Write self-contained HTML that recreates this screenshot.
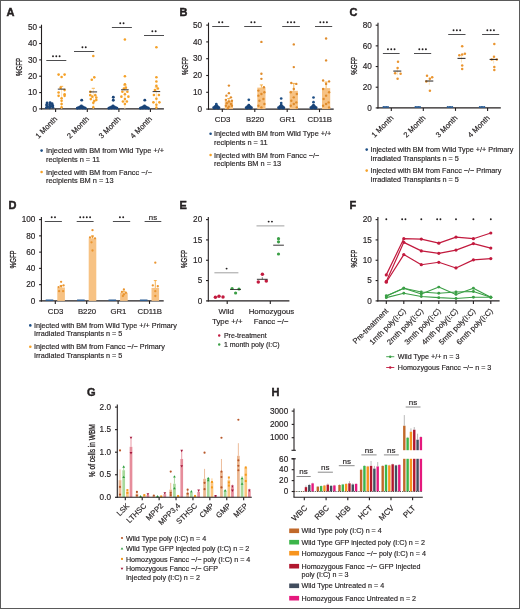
<!DOCTYPE html>
<html><head><meta charset="utf-8"><style>
html,body{margin:0;padding:0;background:#fff;}
svg{display:block;filter:blur(0.3px);font-family:"Liberation Sans", sans-serif;}
text{fill:#231f20;stroke:#231f20;stroke-width:0.16px;}
</style></head><body>
<svg width="520" height="609" viewBox="0 0 520 609">
<rect x="0" y="0" width="520" height="609" fill="#fff"/>
<text x="6.6" y="15.8" font-size="11" text-anchor="start" font-weight="bold" style="stroke-width:0.45px" fill="#000">A</text>
<line x1="41.5" y1="24.7" x2="41.5" y2="109.45" stroke="#231f20" stroke-width="1.1"/>
<line x1="39.2" y1="27.2" x2="41.5" y2="27.2" stroke="#231f20" stroke-width="1.1"/>
<text x="37" y="29.91" font-size="8.2" text-anchor="end">50</text>
<line x1="39.2" y1="43.54" x2="41.5" y2="43.54" stroke="#231f20" stroke-width="1.1"/>
<text x="37" y="46.25" font-size="8.2" text-anchor="end">40</text>
<line x1="39.2" y1="59.88" x2="41.5" y2="59.88" stroke="#231f20" stroke-width="1.1"/>
<text x="37" y="62.59" font-size="8.2" text-anchor="end">30</text>
<line x1="39.2" y1="76.22" x2="41.5" y2="76.22" stroke="#231f20" stroke-width="1.1"/>
<text x="37" y="78.93" font-size="8.2" text-anchor="end">20</text>
<line x1="39.2" y1="92.56" x2="41.5" y2="92.56" stroke="#231f20" stroke-width="1.1"/>
<text x="37" y="95.27" font-size="8.2" text-anchor="end">10</text>
<line x1="39.2" y1="108.9" x2="41.5" y2="108.9" stroke="#231f20" stroke-width="1.1"/>
<text x="37" y="111.61" font-size="8.2" text-anchor="end">0</text>
<text x="22" y="67" font-size="9.4" text-anchor="middle" transform="rotate(-90 22 67)" textLength="18" lengthAdjust="spacingAndGlyphs" style="stroke-width:0.3px">%GFP</text>
<line x1="40.95" y1="108.9" x2="163.9" y2="108.9" stroke="#231f20" stroke-width="1.1"/>
<line x1="55.6" y1="108.9" x2="55.6" y2="111.9" stroke="#231f20" stroke-width="1.1"/>
<line x1="87.3" y1="108.9" x2="87.3" y2="111.9" stroke="#231f20" stroke-width="1.1"/>
<line x1="118.9" y1="108.9" x2="118.9" y2="111.9" stroke="#231f20" stroke-width="1.1"/>
<line x1="150.4" y1="108.9" x2="150.4" y2="111.9" stroke="#231f20" stroke-width="1.1"/>
<line x1="46.3" y1="60.5" x2="66.3" y2="60.5" stroke="#4d4d4f" stroke-width="1"/>
<circle cx="53" cy="56.2" r="0.95" fill="#231f20"/>
<circle cx="56.3" cy="56.2" r="0.95" fill="#231f20"/>
<circle cx="59.6" cy="56.2" r="0.95" fill="#231f20"/>
<line x1="74" y1="51.5" x2="94.2" y2="51.5" stroke="#4d4d4f" stroke-width="1"/>
<circle cx="82.45" cy="47.2" r="0.95" fill="#231f20"/>
<circle cx="85.75" cy="47.2" r="0.95" fill="#231f20"/>
<line x1="111.9" y1="27.5" x2="131.9" y2="27.5" stroke="#4d4d4f" stroke-width="1"/>
<circle cx="120.25" cy="23.2" r="0.95" fill="#231f20"/>
<circle cx="123.55" cy="23.2" r="0.95" fill="#231f20"/>
<line x1="144" y1="35.5" x2="164" y2="35.5" stroke="#4d4d4f" stroke-width="1"/>
<circle cx="152.35" cy="31.2" r="0.95" fill="#231f20"/>
<circle cx="155.65" cy="31.2" r="0.95" fill="#231f20"/>
<circle cx="47.1" cy="103.07" r="1.45" fill="#1a4478"/>
<circle cx="50.1" cy="102.74" r="1.45" fill="#1a4478"/>
<circle cx="52.1" cy="103.72" r="1.45" fill="#1a4478"/>
<circle cx="46.6" cy="105.03" r="1.45" fill="#1a4478"/>
<circle cx="49.6" cy="104.71" r="1.45" fill="#1a4478"/>
<circle cx="52.6" cy="105.36" r="1.45" fill="#1a4478"/>
<circle cx="47.6" cy="106.67" r="1.45" fill="#1a4478"/>
<circle cx="50.6" cy="106.34" r="1.45" fill="#1a4478"/>
<circle cx="52.8" cy="107.32" r="1.45" fill="#1a4478"/>
<circle cx="46.4" cy="107.65" r="1.45" fill="#1a4478"/>
<circle cx="49.6" cy="107.81" r="1.45" fill="#1a4478"/>
<circle cx="78.5" cy="107.81" r="1.45" fill="#1a4478"/>
<circle cx="84.1" cy="107.81" r="1.45" fill="#1a4478"/>
<circle cx="80" cy="106.83" r="1.45" fill="#1a4478"/>
<circle cx="82.7" cy="106.99" r="1.45" fill="#1a4478"/>
<circle cx="81.4" cy="106.01" r="1.45" fill="#1a4478"/>
<circle cx="77.3" cy="108.3" r="1.45" fill="#1a4478"/>
<circle cx="85.3" cy="108.3" r="1.45" fill="#1a4478"/>
<circle cx="81.3" cy="107.81" r="1.45" fill="#1a4478"/>
<circle cx="79.8" cy="108.14" r="1.45" fill="#1a4478"/>
<circle cx="82.8" cy="108.14" r="1.45" fill="#1a4478"/>
<circle cx="81.7" cy="100.13" r="1.45" fill="#1a4478"/>
<circle cx="110.1" cy="107.81" r="1.45" fill="#1a4478"/>
<circle cx="115.7" cy="107.81" r="1.45" fill="#1a4478"/>
<circle cx="111.6" cy="106.83" r="1.45" fill="#1a4478"/>
<circle cx="114.3" cy="106.99" r="1.45" fill="#1a4478"/>
<circle cx="113" cy="106.01" r="1.45" fill="#1a4478"/>
<circle cx="108.9" cy="108.3" r="1.45" fill="#1a4478"/>
<circle cx="116.9" cy="108.3" r="1.45" fill="#1a4478"/>
<circle cx="112.9" cy="107.81" r="1.45" fill="#1a4478"/>
<circle cx="111.4" cy="108.14" r="1.45" fill="#1a4478"/>
<circle cx="114.4" cy="108.14" r="1.45" fill="#1a4478"/>
<circle cx="113.3" cy="97.19" r="1.45" fill="#1a4478"/>
<circle cx="113.3" cy="100.29" r="1.45" fill="#1a4478"/>
<circle cx="141.6" cy="107.81" r="1.45" fill="#1a4478"/>
<circle cx="147.2" cy="107.81" r="1.45" fill="#1a4478"/>
<circle cx="143.1" cy="106.83" r="1.45" fill="#1a4478"/>
<circle cx="145.8" cy="106.99" r="1.45" fill="#1a4478"/>
<circle cx="144.5" cy="106.01" r="1.45" fill="#1a4478"/>
<circle cx="140.4" cy="108.3" r="1.45" fill="#1a4478"/>
<circle cx="148.4" cy="108.3" r="1.45" fill="#1a4478"/>
<circle cx="144.4" cy="107.81" r="1.45" fill="#1a4478"/>
<circle cx="142.9" cy="108.14" r="1.45" fill="#1a4478"/>
<circle cx="145.9" cy="108.14" r="1.45" fill="#1a4478"/>
<circle cx="144.8" cy="100.13" r="1.45" fill="#1a4478"/>
<line x1="61.6" y1="108.9" x2="61.6" y2="86.35" stroke="#fde2b8" stroke-width="0.9"/>
<circle cx="58.6" cy="74.59" r="1.3" fill="#f5a128"/>
<circle cx="64.6" cy="74.59" r="1.3" fill="#f5a128"/>
<circle cx="61.6" cy="77.04" r="1.3" fill="#f5a128"/>
<circle cx="60.6" cy="87.66" r="1.3" fill="#f5a128"/>
<circle cx="64.6" cy="90.11" r="1.3" fill="#f5a128"/>
<circle cx="58.6" cy="92.56" r="1.3" fill="#f5a128"/>
<circle cx="64.6" cy="94.19" r="1.3" fill="#f5a128"/>
<circle cx="58.6" cy="95.83" r="1.3" fill="#f5a128"/>
<circle cx="64.6" cy="95.83" r="1.3" fill="#f5a128"/>
<circle cx="61.6" cy="98.28" r="1.3" fill="#f5a128"/>
<circle cx="61.6" cy="100.73" r="1.3" fill="#f5a128"/>
<circle cx="61.6" cy="104" r="1.3" fill="#f5a128"/>
<circle cx="61.6" cy="107.27" r="1.3" fill="#f5a128"/>
<line x1="57.8" y1="89.13" x2="65.4" y2="89.13" stroke="#231f20" stroke-width="0.9"/>
<line x1="60" y1="86.35" x2="63.2" y2="86.35" stroke="#f5a128" stroke-width="0.8"/>
<line x1="93.3" y1="108.9" x2="93.3" y2="88.31" stroke="#fde2b8" stroke-width="0.9"/>
<circle cx="93.3" cy="55.96" r="1.3" fill="#f5a128"/>
<circle cx="94.3" cy="77.36" r="1.3" fill="#f5a128"/>
<circle cx="91.8" cy="79.81" r="1.3" fill="#f5a128"/>
<circle cx="90.3" cy="95.17" r="1.3" fill="#f5a128"/>
<circle cx="95.3" cy="95.17" r="1.3" fill="#f5a128"/>
<circle cx="92.3" cy="96.65" r="1.3" fill="#f5a128"/>
<circle cx="96.3" cy="97.46" r="1.3" fill="#f5a128"/>
<circle cx="90.8" cy="99.1" r="1.3" fill="#f5a128"/>
<circle cx="94.3" cy="101.06" r="1.3" fill="#f5a128"/>
<circle cx="93.3" cy="102.69" r="1.3" fill="#f5a128"/>
<circle cx="93.3" cy="107.27" r="1.3" fill="#f5a128"/>
<circle cx="96.3" cy="99.91" r="1.3" fill="#f5a128"/>
<circle cx="90.3" cy="91.74" r="1.3" fill="#f5a128"/>
<line x1="89.5" y1="91.91" x2="97.1" y2="91.91" stroke="#231f20" stroke-width="0.9"/>
<line x1="91.7" y1="88.31" x2="94.9" y2="88.31" stroke="#f5a128" stroke-width="0.8"/>
<line x1="124.9" y1="108.9" x2="124.9" y2="85.21" stroke="#fde2b8" stroke-width="0.9"/>
<circle cx="124.9" cy="39.46" r="1.3" fill="#f5a128"/>
<circle cx="124.9" cy="76.22" r="1.3" fill="#f5a128"/>
<circle cx="124.9" cy="84.23" r="1.3" fill="#f5a128"/>
<circle cx="122.4" cy="91.74" r="1.3" fill="#f5a128"/>
<circle cx="127.4" cy="91.74" r="1.3" fill="#f5a128"/>
<circle cx="124.9" cy="94.19" r="1.3" fill="#f5a128"/>
<circle cx="121.4" cy="96.65" r="1.3" fill="#f5a128"/>
<circle cx="128.4" cy="96.65" r="1.3" fill="#f5a128"/>
<circle cx="124.9" cy="99.1" r="1.3" fill="#f5a128"/>
<circle cx="123.9" cy="88.48" r="1.3" fill="#f5a128"/>
<circle cx="125.9" cy="87.66" r="1.3" fill="#f5a128"/>
<circle cx="124.9" cy="104" r="1.3" fill="#f5a128"/>
<circle cx="126.9" cy="101.55" r="1.3" fill="#f5a128"/>
<circle cx="122.9" cy="101.55" r="1.3" fill="#f5a128"/>
<line x1="121.1" y1="89.78" x2="128.7" y2="89.78" stroke="#231f20" stroke-width="0.9"/>
<line x1="123.3" y1="85.21" x2="126.5" y2="85.21" stroke="#f5a128" stroke-width="0.8"/>
<line x1="156.4" y1="108.9" x2="156.4" y2="87" stroke="#fde2b8" stroke-width="0.9"/>
<circle cx="156.4" cy="47.3" r="1.3" fill="#f5a128"/>
<circle cx="156.4" cy="77.2" r="1.3" fill="#f5a128"/>
<circle cx="156.4" cy="81.45" r="1.3" fill="#f5a128"/>
<circle cx="156.4" cy="85.86" r="1.3" fill="#f5a128"/>
<circle cx="153.9" cy="95.01" r="1.3" fill="#f5a128"/>
<circle cx="158.9" cy="95.01" r="1.3" fill="#f5a128"/>
<circle cx="156.4" cy="98.77" r="1.3" fill="#f5a128"/>
<circle cx="153.4" cy="102.36" r="1.3" fill="#f5a128"/>
<circle cx="159.4" cy="102.36" r="1.3" fill="#f5a128"/>
<circle cx="156.4" cy="104.82" r="1.3" fill="#f5a128"/>
<circle cx="156.4" cy="107.59" r="1.3" fill="#f5a128"/>
<circle cx="154.9" cy="90.11" r="1.3" fill="#f5a128"/>
<circle cx="157.9" cy="88.48" r="1.3" fill="#f5a128"/>
<line x1="152.6" y1="91.58" x2="160.2" y2="91.58" stroke="#231f20" stroke-width="0.9"/>
<line x1="154.8" y1="87" x2="158" y2="87" stroke="#f5a128" stroke-width="0.8"/>
<text x="57.8" y="119.5" font-size="7.6" text-anchor="end" transform="rotate(-45 57.8 119.5)">1 Month</text>
<text x="89.5" y="119.5" font-size="7.6" text-anchor="end" transform="rotate(-45 89.5 119.5)">2 Month</text>
<text x="121.1" y="119.5" font-size="7.6" text-anchor="end" transform="rotate(-45 121.1 119.5)">3 Month</text>
<text x="152.6" y="119.5" font-size="7.6" text-anchor="end" transform="rotate(-45 152.6 119.5)">4 Month</text>
<circle cx="41.6" cy="150.6" r="1.3" fill="#1d4f86"/>
<text x="46" y="153.2" font-size="7.4" text-anchor="start">Injected with BM from Wild Type +/+</text>
<text x="46" y="161.8" font-size="7.4" text-anchor="start">recipients n = 11</text>
<circle cx="41.6" cy="172" r="1.3" fill="#f5a128"/>
<text x="46" y="174.6" font-size="7.4" text-anchor="start">Injected with BM from Fancc −/−</text>
<text x="46" y="183.2" font-size="7.4" text-anchor="start">recipients BM n = 13</text>
<text x="179.4" y="15.8" font-size="11" text-anchor="start" font-weight="bold" style="stroke-width:0.45px" fill="#000">B</text>
<line x1="208.5" y1="22.6" x2="208.5" y2="109.65" stroke="#231f20" stroke-width="1.1"/>
<line x1="206.2" y1="25.1" x2="208.5" y2="25.1" stroke="#231f20" stroke-width="1.1"/>
<text x="202" y="27.81" font-size="8.2" text-anchor="end">50</text>
<line x1="206.2" y1="41.9" x2="208.5" y2="41.9" stroke="#231f20" stroke-width="1.1"/>
<text x="202" y="44.61" font-size="8.2" text-anchor="end">40</text>
<line x1="206.2" y1="58.7" x2="208.5" y2="58.7" stroke="#231f20" stroke-width="1.1"/>
<text x="202" y="61.41" font-size="8.2" text-anchor="end">30</text>
<line x1="206.2" y1="75.5" x2="208.5" y2="75.5" stroke="#231f20" stroke-width="1.1"/>
<text x="202" y="78.21" font-size="8.2" text-anchor="end">20</text>
<line x1="206.2" y1="92.3" x2="208.5" y2="92.3" stroke="#231f20" stroke-width="1.1"/>
<text x="202" y="95.01" font-size="8.2" text-anchor="end">10</text>
<line x1="206.2" y1="109.1" x2="208.5" y2="109.1" stroke="#231f20" stroke-width="1.1"/>
<text x="202" y="111.81" font-size="8.2" text-anchor="end">0</text>
<text x="187.9" y="66" font-size="9.4" text-anchor="middle" transform="rotate(-90 187.9 66)" textLength="18" lengthAdjust="spacingAndGlyphs" style="stroke-width:0.3px">%GFP</text>
<line x1="207.95" y1="109.1" x2="333.7" y2="109.1" stroke="#231f20" stroke-width="1.1"/>
<line x1="222.3" y1="109.1" x2="222.3" y2="112.1" stroke="#231f20" stroke-width="1.1"/>
<line x1="254.8" y1="109.1" x2="254.8" y2="112.1" stroke="#231f20" stroke-width="1.1"/>
<line x1="287.2" y1="109.1" x2="287.2" y2="112.1" stroke="#231f20" stroke-width="1.1"/>
<line x1="319.5" y1="109.1" x2="319.5" y2="112.1" stroke="#231f20" stroke-width="1.1"/>
<line x1="212.2" y1="26.5" x2="229.2" y2="26.5" stroke="#4d4d4f" stroke-width="1"/>
<circle cx="219.05" cy="22.2" r="0.95" fill="#231f20"/>
<circle cx="222.35" cy="22.2" r="0.95" fill="#231f20"/>
<line x1="244.2" y1="26.5" x2="261.7" y2="26.5" stroke="#4d4d4f" stroke-width="1"/>
<circle cx="251.3" cy="22.2" r="0.95" fill="#231f20"/>
<circle cx="254.6" cy="22.2" r="0.95" fill="#231f20"/>
<line x1="282.2" y1="26.5" x2="299.9" y2="26.5" stroke="#4d4d4f" stroke-width="1"/>
<circle cx="287.75" cy="22.2" r="0.95" fill="#231f20"/>
<circle cx="291.05" cy="22.2" r="0.95" fill="#231f20"/>
<circle cx="294.35" cy="22.2" r="0.95" fill="#231f20"/>
<line x1="315" y1="26.5" x2="332.2" y2="26.5" stroke="#4d4d4f" stroke-width="1"/>
<circle cx="320.3" cy="22.2" r="0.95" fill="#231f20"/>
<circle cx="323.6" cy="22.2" r="0.95" fill="#231f20"/>
<circle cx="326.9" cy="22.2" r="0.95" fill="#231f20"/>
<circle cx="213.7" cy="107.66" r="1.45" fill="#1a4478"/>
<circle cx="218.9" cy="107.66" r="1.45" fill="#1a4478"/>
<circle cx="215" cy="106.65" r="1.45" fill="#1a4478"/>
<circle cx="217.6" cy="106.65" r="1.45" fill="#1a4478"/>
<circle cx="216.3" cy="105.31" r="1.45" fill="#1a4478"/>
<circle cx="214.5" cy="108.16" r="1.45" fill="#1a4478"/>
<circle cx="218.1" cy="108.16" r="1.45" fill="#1a4478"/>
<circle cx="216.3" cy="107.49" r="1.45" fill="#1a4478"/>
<circle cx="216.3" cy="106.32" r="1.45" fill="#1a4478"/>
<circle cx="216.3" cy="104.06" r="1.35" fill="#1d4f86"/>
<circle cx="246.2" cy="107.66" r="1.45" fill="#1a4478"/>
<circle cx="251.4" cy="107.66" r="1.45" fill="#1a4478"/>
<circle cx="247.5" cy="106.65" r="1.45" fill="#1a4478"/>
<circle cx="250.1" cy="106.65" r="1.45" fill="#1a4478"/>
<circle cx="248.8" cy="105.31" r="1.45" fill="#1a4478"/>
<circle cx="247" cy="108.16" r="1.45" fill="#1a4478"/>
<circle cx="250.6" cy="108.16" r="1.45" fill="#1a4478"/>
<circle cx="248.8" cy="107.49" r="1.45" fill="#1a4478"/>
<circle cx="248.8" cy="106.32" r="1.45" fill="#1a4478"/>
<circle cx="248.8" cy="99.86" r="1.35" fill="#1d4f86"/>
<circle cx="278.6" cy="107.66" r="1.45" fill="#1a4478"/>
<circle cx="283.8" cy="107.66" r="1.45" fill="#1a4478"/>
<circle cx="279.9" cy="106.65" r="1.45" fill="#1a4478"/>
<circle cx="282.5" cy="106.65" r="1.45" fill="#1a4478"/>
<circle cx="281.2" cy="105.31" r="1.45" fill="#1a4478"/>
<circle cx="279.4" cy="108.16" r="1.45" fill="#1a4478"/>
<circle cx="283" cy="108.16" r="1.45" fill="#1a4478"/>
<circle cx="281.2" cy="107.49" r="1.45" fill="#1a4478"/>
<circle cx="281.2" cy="106.32" r="1.45" fill="#1a4478"/>
<circle cx="281.2" cy="98.52" r="1.35" fill="#1d4f86"/>
<circle cx="281.2" cy="103.05" r="1.35" fill="#1d4f86"/>
<circle cx="310.9" cy="107.66" r="1.45" fill="#1a4478"/>
<circle cx="316.1" cy="107.66" r="1.45" fill="#1a4478"/>
<circle cx="312.2" cy="106.65" r="1.45" fill="#1a4478"/>
<circle cx="314.8" cy="106.65" r="1.45" fill="#1a4478"/>
<circle cx="313.5" cy="105.31" r="1.45" fill="#1a4478"/>
<circle cx="311.7" cy="108.16" r="1.45" fill="#1a4478"/>
<circle cx="315.3" cy="108.16" r="1.45" fill="#1a4478"/>
<circle cx="313.5" cy="107.49" r="1.45" fill="#1a4478"/>
<circle cx="313.5" cy="106.32" r="1.45" fill="#1a4478"/>
<circle cx="313.5" cy="97.51" r="1.35" fill="#1d4f86"/>
<circle cx="313.5" cy="102.21" r="1.35" fill="#1d4f86"/>
<rect x="224.8" y="100.7" width="8.2" height="8.4" fill="#f7c283"/>
<line x1="228.9" y1="100.7" x2="228.9" y2="98.52" stroke="#f5a128" stroke-width="0.8"/>
<line x1="227.3" y1="98.52" x2="230.5" y2="98.52" stroke="#f5a128" stroke-width="0.8"/>
<circle cx="228.9" cy="85.58" r="1.2" fill="#e08c2c"/>
<circle cx="228.9" cy="93.14" r="1.2" fill="#e08c2c"/>
<circle cx="226.4" cy="95.66" r="1.2" fill="#e08c2c"/>
<circle cx="230.9" cy="97.34" r="1.2" fill="#e08c2c"/>
<circle cx="225.9" cy="99.86" r="1.2" fill="#e08c2c"/>
<circle cx="231.9" cy="100.7" r="1.2" fill="#e08c2c"/>
<circle cx="228.9" cy="101.54" r="1.2" fill="#e08c2c"/>
<circle cx="226.9" cy="103.22" r="1.2" fill="#e08c2c"/>
<circle cx="230.9" cy="104.06" r="1.2" fill="#e08c2c"/>
<circle cx="225.9" cy="105.74" r="1.2" fill="#e08c2c"/>
<circle cx="231.9" cy="105.74" r="1.2" fill="#e08c2c"/>
<circle cx="228.9" cy="106.58" r="1.2" fill="#e08c2c"/>
<circle cx="227.9" cy="108.26" r="1.2" fill="#e08c2c"/>
<rect x="257.3" y="87.6" width="8.2" height="21.5" fill="#f7c283"/>
<line x1="261.4" y1="87.6" x2="261.4" y2="84.91" stroke="#f5a128" stroke-width="0.8"/>
<line x1="259.8" y1="84.91" x2="263" y2="84.91" stroke="#f5a128" stroke-width="0.8"/>
<circle cx="261.4" cy="41.9" r="1.2" fill="#e08c2c"/>
<circle cx="261.4" cy="73.82" r="1.2" fill="#e08c2c"/>
<circle cx="261.4" cy="78.86" r="1.2" fill="#e08c2c"/>
<circle cx="263.9" cy="87.26" r="1.2" fill="#e08c2c"/>
<circle cx="258.4" cy="90.62" r="1.2" fill="#e08c2c"/>
<circle cx="264.4" cy="92.3" r="1.2" fill="#e08c2c"/>
<circle cx="261.4" cy="93.98" r="1.2" fill="#e08c2c"/>
<circle cx="258.4" cy="95.66" r="1.2" fill="#e08c2c"/>
<circle cx="263.4" cy="99.02" r="1.2" fill="#e08c2c"/>
<circle cx="259.4" cy="100.7" r="1.2" fill="#e08c2c"/>
<circle cx="264.4" cy="104.06" r="1.2" fill="#e08c2c"/>
<circle cx="258.4" cy="105.74" r="1.2" fill="#e08c2c"/>
<circle cx="261.4" cy="107.42" r="1.2" fill="#e08c2c"/>
<rect x="289.7" y="90.79" width="8.2" height="18.31" fill="#f7c283"/>
<line x1="293.8" y1="90.79" x2="293.8" y2="83.4" stroke="#f5a128" stroke-width="0.8"/>
<line x1="292.2" y1="83.4" x2="295.4" y2="83.4" stroke="#f5a128" stroke-width="0.8"/>
<circle cx="293.8" cy="44.42" r="1.2" fill="#e08c2c"/>
<circle cx="293.8" cy="67.1" r="1.2" fill="#e08c2c"/>
<circle cx="291.3" cy="83.06" r="1.2" fill="#e08c2c"/>
<circle cx="296.3" cy="83.9" r="1.2" fill="#e08c2c"/>
<circle cx="293.8" cy="88.94" r="1.2" fill="#e08c2c"/>
<circle cx="290.8" cy="92.3" r="1.2" fill="#e08c2c"/>
<circle cx="296.8" cy="93.98" r="1.2" fill="#e08c2c"/>
<circle cx="293.8" cy="97.34" r="1.2" fill="#e08c2c"/>
<circle cx="291.3" cy="100.7" r="1.2" fill="#e08c2c"/>
<circle cx="296.3" cy="102.38" r="1.2" fill="#e08c2c"/>
<circle cx="293.8" cy="104.06" r="1.2" fill="#e08c2c"/>
<circle cx="290.8" cy="105.74" r="1.2" fill="#e08c2c"/>
<circle cx="296.8" cy="107.42" r="1.2" fill="#e08c2c"/>
<rect x="322" y="88.1" width="8.2" height="21" fill="#f7c283"/>
<line x1="326.1" y1="88.1" x2="326.1" y2="82.05" stroke="#f5a128" stroke-width="0.8"/>
<line x1="324.5" y1="82.05" x2="327.7" y2="82.05" stroke="#f5a128" stroke-width="0.8"/>
<circle cx="326.1" cy="38.54" r="1.2" fill="#e08c2c"/>
<circle cx="326.1" cy="60.38" r="1.2" fill="#e08c2c"/>
<circle cx="323.1" cy="80.54" r="1.2" fill="#e08c2c"/>
<circle cx="329.1" cy="81.38" r="1.2" fill="#e08c2c"/>
<circle cx="326.1" cy="83.9" r="1.2" fill="#e08c2c"/>
<circle cx="323.1" cy="88.94" r="1.2" fill="#e08c2c"/>
<circle cx="329.1" cy="92.3" r="1.2" fill="#e08c2c"/>
<circle cx="326.1" cy="95.66" r="1.2" fill="#e08c2c"/>
<circle cx="323.6" cy="99.02" r="1.2" fill="#e08c2c"/>
<circle cx="328.6" cy="102.38" r="1.2" fill="#e08c2c"/>
<circle cx="326.1" cy="104.06" r="1.2" fill="#e08c2c"/>
<circle cx="323.1" cy="105.74" r="1.2" fill="#e08c2c"/>
<circle cx="329.1" cy="107.42" r="1.2" fill="#e08c2c"/>
<text x="222.6" y="122.2" font-size="7.8" text-anchor="middle">CD3</text>
<text x="255.1" y="122.2" font-size="7.8" text-anchor="middle">B220</text>
<text x="287.5" y="122.2" font-size="7.8" text-anchor="middle">GR1</text>
<text x="319.8" y="122.2" font-size="7.8" text-anchor="middle">CD11B</text>
<circle cx="210.6" cy="133.7" r="1.3" fill="#1d4f86"/>
<text x="214" y="136.3" font-size="7.35" text-anchor="start">Injected with BM from Wild Type +/+</text>
<text x="214" y="144.8" font-size="7.35" text-anchor="start">recipients n = 11</text>
<circle cx="210.6" cy="155" r="1.3" fill="#f5a128"/>
<text x="214" y="157.6" font-size="7.35" text-anchor="start">Injected with BM from Fancc −/−</text>
<text x="214" y="166.1" font-size="7.35" text-anchor="start">recipients BM n = 13</text>
<text x="349.4" y="15.8" font-size="11" text-anchor="start" font-weight="bold" style="stroke-width:0.45px" fill="#000">C</text>
<line x1="378" y1="22.68" x2="378" y2="108.45" stroke="#231f20" stroke-width="1.1"/>
<line x1="375.7" y1="25.18" x2="378" y2="25.18" stroke="#231f20" stroke-width="1.1"/>
<text x="371.8" y="27.89" font-size="8.2" text-anchor="end">80</text>
<line x1="375.7" y1="45.86" x2="378" y2="45.86" stroke="#231f20" stroke-width="1.1"/>
<text x="371.8" y="48.57" font-size="8.2" text-anchor="end">60</text>
<line x1="375.7" y1="66.54" x2="378" y2="66.54" stroke="#231f20" stroke-width="1.1"/>
<text x="371.8" y="69.25" font-size="8.2" text-anchor="end">40</text>
<line x1="375.7" y1="87.22" x2="378" y2="87.22" stroke="#231f20" stroke-width="1.1"/>
<text x="371.8" y="89.93" font-size="8.2" text-anchor="end">20</text>
<line x1="375.7" y1="107.9" x2="378" y2="107.9" stroke="#231f20" stroke-width="1.1"/>
<text x="371.8" y="110.61" font-size="8.2" text-anchor="end">0</text>
<text x="356.7" y="65.8" font-size="9.4" text-anchor="middle" transform="rotate(-90 356.7 65.8)" textLength="18" lengthAdjust="spacingAndGlyphs" style="stroke-width:0.3px">%GFP</text>
<line x1="377.45" y1="107.9" x2="500.8" y2="107.9" stroke="#231f20" stroke-width="1.1"/>
<line x1="391.3" y1="107.9" x2="391.3" y2="110.9" stroke="#231f20" stroke-width="1.1"/>
<line x1="423.3" y1="107.9" x2="423.3" y2="110.9" stroke="#231f20" stroke-width="1.1"/>
<line x1="455.5" y1="107.9" x2="455.5" y2="110.9" stroke="#231f20" stroke-width="1.1"/>
<line x1="487.6" y1="107.9" x2="487.6" y2="110.9" stroke="#231f20" stroke-width="1.1"/>
<line x1="382.9" y1="53.5" x2="399.6" y2="53.5" stroke="#4d4d4f" stroke-width="1"/>
<circle cx="387.95" cy="49.2" r="0.95" fill="#231f20"/>
<circle cx="391.25" cy="49.2" r="0.95" fill="#231f20"/>
<circle cx="394.55" cy="49.2" r="0.95" fill="#231f20"/>
<line x1="414" y1="53.5" x2="431.2" y2="53.5" stroke="#4d4d4f" stroke-width="1"/>
<circle cx="419.3" cy="49.2" r="0.95" fill="#231f20"/>
<circle cx="422.6" cy="49.2" r="0.95" fill="#231f20"/>
<circle cx="425.9" cy="49.2" r="0.95" fill="#231f20"/>
<line x1="448.2" y1="34.5" x2="465.5" y2="34.5" stroke="#4d4d4f" stroke-width="1"/>
<circle cx="453.55" cy="30.2" r="0.95" fill="#231f20"/>
<circle cx="456.85" cy="30.2" r="0.95" fill="#231f20"/>
<circle cx="460.15" cy="30.2" r="0.95" fill="#231f20"/>
<line x1="482.1" y1="34.5" x2="499.2" y2="34.5" stroke="#4d4d4f" stroke-width="1"/>
<circle cx="487.35" cy="30.2" r="0.95" fill="#231f20"/>
<circle cx="490.65" cy="30.2" r="0.95" fill="#231f20"/>
<circle cx="493.95" cy="30.2" r="0.95" fill="#231f20"/>
<circle cx="383.5" cy="107" r="1" fill="#2b5d95"/>
<circle cx="385" cy="107" r="1" fill="#2b5d95"/>
<circle cx="386.5" cy="107" r="1" fill="#2b5d95"/>
<circle cx="388" cy="107" r="1" fill="#2b5d95"/>
<circle cx="415.5" cy="107" r="1" fill="#2b5d95"/>
<circle cx="417" cy="107" r="1" fill="#2b5d95"/>
<circle cx="418.5" cy="107" r="1" fill="#2b5d95"/>
<circle cx="420" cy="107" r="1" fill="#2b5d95"/>
<circle cx="447.7" cy="107" r="1" fill="#2b5d95"/>
<circle cx="449.2" cy="107" r="1" fill="#2b5d95"/>
<circle cx="450.7" cy="107" r="1" fill="#2b5d95"/>
<circle cx="452.2" cy="107" r="1" fill="#2b5d95"/>
<circle cx="479.8" cy="107" r="1" fill="#2b5d95"/>
<circle cx="481.3" cy="107" r="1" fill="#2b5d95"/>
<circle cx="482.8" cy="107" r="1" fill="#2b5d95"/>
<circle cx="484.3" cy="107" r="1" fill="#2b5d95"/>
<line x1="397.3" y1="75.23" x2="397.3" y2="67.47" stroke="#fde2b8" stroke-width="0.9"/>
<circle cx="398" cy="61.68" r="1.25" fill="#ea9530"/>
<circle cx="397.6" cy="68.09" r="1.25" fill="#ea9530"/>
<circle cx="395.1" cy="73.26" r="1.25" fill="#ea9530"/>
<circle cx="400.6" cy="73.78" r="1.25" fill="#ea9530"/>
<circle cx="397.6" cy="78.64" r="1.25" fill="#ea9530"/>
<line x1="393.3" y1="71.09" x2="401.3" y2="71.09" stroke="#231f20" stroke-width="1"/>
<line x1="429.3" y1="85.15" x2="429.3" y2="77.4" stroke="#fde2b8" stroke-width="0.9"/>
<circle cx="427" cy="75.85" r="1.25" fill="#ea9530"/>
<circle cx="432.2" cy="77.19" r="1.25" fill="#ea9530"/>
<circle cx="429.9" cy="78.64" r="1.25" fill="#ea9530"/>
<circle cx="426.3" cy="81.53" r="1.25" fill="#ea9530"/>
<circle cx="429.9" cy="90.74" r="1.25" fill="#ea9530"/>
<line x1="425.3" y1="81.02" x2="433.3" y2="81.02" stroke="#231f20" stroke-width="1"/>
<line x1="461.5" y1="62.51" x2="461.5" y2="54.75" stroke="#fde2b8" stroke-width="0.9"/>
<circle cx="462.2" cy="46.27" r="1.25" fill="#ea9530"/>
<circle cx="459.3" cy="55.17" r="1.25" fill="#ea9530"/>
<circle cx="462.2" cy="54.44" r="1.25" fill="#ea9530"/>
<circle cx="464.9" cy="53.82" r="1.25" fill="#ea9530"/>
<circle cx="462.2" cy="65.61" r="1.25" fill="#ea9530"/>
<circle cx="462.2" cy="69.12" r="1.25" fill="#ea9530"/>
<line x1="457.5" y1="58.37" x2="465.5" y2="58.37" stroke="#231f20" stroke-width="1"/>
<line x1="493.6" y1="63.54" x2="493.6" y2="55.79" stroke="#fde2b8" stroke-width="0.9"/>
<circle cx="494.3" cy="44" r="1.25" fill="#ea9530"/>
<circle cx="491.7" cy="59.41" r="1.25" fill="#ea9530"/>
<circle cx="496.8" cy="59.41" r="1.25" fill="#ea9530"/>
<circle cx="494" cy="56.72" r="1.25" fill="#ea9530"/>
<circle cx="494.3" cy="67.06" r="1.25" fill="#ea9530"/>
<circle cx="494.3" cy="70.06" r="1.25" fill="#ea9530"/>
<line x1="489.6" y1="59.41" x2="497.6" y2="59.41" stroke="#231f20" stroke-width="1"/>
<text x="393.9" y="118.5" font-size="7.6" text-anchor="end" transform="rotate(-45 393.9 118.5)">1 Month</text>
<text x="425.9" y="118.5" font-size="7.6" text-anchor="end" transform="rotate(-45 425.9 118.5)">2 Month</text>
<text x="458.1" y="118.5" font-size="7.6" text-anchor="end" transform="rotate(-45 458.1 118.5)">3 Month</text>
<text x="490.2" y="118.5" font-size="7.6" text-anchor="end" transform="rotate(-45 490.2 118.5)">4 Month</text>
<circle cx="366.7" cy="149.6" r="1.3" fill="#1d4f86"/>
<text x="370.4" y="152.2" font-size="7.25" text-anchor="start">Injected with BM from Wild Type +/+ Primary</text>
<text x="370.4" y="160.7" font-size="7.25" text-anchor="start">Irradiated Transplants n = 5</text>
<circle cx="366.7" cy="170.6" r="1.3" fill="#f5a128"/>
<text x="370.4" y="173.2" font-size="7.25" text-anchor="start">Injected with BM from Fancc −/− Primary</text>
<text x="370.4" y="181.7" font-size="7.25" text-anchor="start">Irradiated Transplants n = 5</text>
<text x="8.6" y="208.6" font-size="11" text-anchor="start" font-weight="bold" style="stroke-width:0.45px" fill="#000">D</text>
<line x1="41.4" y1="217.1" x2="41.4" y2="301.45" stroke="#231f20" stroke-width="1.1"/>
<line x1="39.1" y1="219.6" x2="41.4" y2="219.6" stroke="#231f20" stroke-width="1.1"/>
<text x="35.4" y="222.31" font-size="8.2" text-anchor="end">100</text>
<line x1="39.1" y1="235.86" x2="41.4" y2="235.86" stroke="#231f20" stroke-width="1.1"/>
<text x="35.4" y="238.57" font-size="8.2" text-anchor="end">80</text>
<line x1="39.1" y1="252.12" x2="41.4" y2="252.12" stroke="#231f20" stroke-width="1.1"/>
<text x="35.4" y="254.83" font-size="8.2" text-anchor="end">60</text>
<line x1="39.1" y1="268.38" x2="41.4" y2="268.38" stroke="#231f20" stroke-width="1.1"/>
<text x="35.4" y="271.09" font-size="8.2" text-anchor="end">40</text>
<line x1="39.1" y1="284.64" x2="41.4" y2="284.64" stroke="#231f20" stroke-width="1.1"/>
<text x="35.4" y="287.35" font-size="8.2" text-anchor="end">20</text>
<line x1="39.1" y1="300.9" x2="41.4" y2="300.9" stroke="#231f20" stroke-width="1.1"/>
<text x="35.4" y="303.61" font-size="8.2" text-anchor="end">0</text>
<text x="16.1" y="259.3" font-size="9.4" text-anchor="middle" transform="rotate(-90 16.1 259.3)" textLength="18" lengthAdjust="spacingAndGlyphs" style="stroke-width:0.3px">%GFP</text>
<line x1="40.85" y1="300.9" x2="163.7" y2="300.9" stroke="#231f20" stroke-width="1.1"/>
<line x1="55.3" y1="300.9" x2="55.3" y2="303.9" stroke="#231f20" stroke-width="1.1"/>
<line x1="86.7" y1="300.9" x2="86.7" y2="303.9" stroke="#231f20" stroke-width="1.1"/>
<line x1="118.1" y1="300.9" x2="118.1" y2="303.9" stroke="#231f20" stroke-width="1.1"/>
<line x1="149.5" y1="300.9" x2="149.5" y2="303.9" stroke="#231f20" stroke-width="1.1"/>
<line x1="44.8" y1="221.5" x2="61.9" y2="221.5" stroke="#4d4d4f" stroke-width="1"/>
<circle cx="51.7" cy="217.2" r="0.95" fill="#231f20"/>
<circle cx="55" cy="217.2" r="0.95" fill="#231f20"/>
<line x1="76.7" y1="221.5" x2="93.6" y2="221.5" stroke="#4d4d4f" stroke-width="1"/>
<circle cx="80.2" cy="217.2" r="0.95" fill="#231f20"/>
<circle cx="83.5" cy="217.2" r="0.95" fill="#231f20"/>
<circle cx="86.8" cy="217.2" r="0.95" fill="#231f20"/>
<circle cx="90.1" cy="217.2" r="0.95" fill="#231f20"/>
<line x1="112.9" y1="221.5" x2="130.2" y2="221.5" stroke="#4d4d4f" stroke-width="1"/>
<circle cx="119.9" cy="217.2" r="0.95" fill="#231f20"/>
<circle cx="123.2" cy="217.2" r="0.95" fill="#231f20"/>
<line x1="144.6" y1="221.5" x2="161.3" y2="221.5" stroke="#4d4d4f" stroke-width="1"/>
<text x="152.95" y="219.5" font-size="7.8" text-anchor="middle">ns</text>
<line x1="45.7" y1="300.2" x2="53.3" y2="300.2" stroke="#2b5d95" stroke-width="1.4"/>
<line x1="77.1" y1="300.2" x2="84.7" y2="300.2" stroke="#2b5d95" stroke-width="1.4"/>
<line x1="108.5" y1="300.2" x2="116.1" y2="300.2" stroke="#2b5d95" stroke-width="1.4"/>
<line x1="139.9" y1="300.2" x2="147.5" y2="300.2" stroke="#2b5d95" stroke-width="1.4"/>
<rect x="57.3" y="287.49" width="7.6" height="13.41" fill="#f7c283"/>
<line x1="61.1" y1="287.49" x2="61.1" y2="285.45" stroke="#f5a128" stroke-width="0.8"/>
<line x1="59.6" y1="285.45" x2="62.6" y2="285.45" stroke="#f5a128" stroke-width="0.8"/>
<circle cx="61.1" cy="281.79" r="1.15" fill="#ea9530"/>
<circle cx="58.6" cy="287.08" r="1.15" fill="#ea9530"/>
<circle cx="61.1" cy="286.27" r="1.15" fill="#ea9530"/>
<circle cx="63.6" cy="285.45" r="1.15" fill="#ea9530"/>
<circle cx="59.1" cy="291.14" r="1.15" fill="#ea9530"/>
<circle cx="63.1" cy="291.14" r="1.15" fill="#ea9530"/>
<rect x="88.7" y="238.3" width="7.6" height="62.6" fill="#f7c283"/>
<line x1="92.5" y1="238.3" x2="92.5" y2="235.86" stroke="#f5a128" stroke-width="0.8"/>
<line x1="91" y1="235.86" x2="94" y2="235.86" stroke="#f5a128" stroke-width="0.8"/>
<circle cx="92.5" cy="230.17" r="1.15" fill="#ea9530"/>
<circle cx="90" cy="237.49" r="1.15" fill="#ea9530"/>
<circle cx="92.5" cy="236.67" r="1.15" fill="#ea9530"/>
<circle cx="95" cy="238.3" r="1.15" fill="#ea9530"/>
<circle cx="91.5" cy="242.36" r="1.15" fill="#ea9530"/>
<circle cx="92.5" cy="250.49" r="1.15" fill="#ea9530"/>
<rect x="120.1" y="292.77" width="7.6" height="8.13" fill="#f7c283"/>
<line x1="123.9" y1="292.77" x2="123.9" y2="291.31" stroke="#f5a128" stroke-width="0.8"/>
<line x1="122.4" y1="291.31" x2="125.4" y2="291.31" stroke="#f5a128" stroke-width="0.8"/>
<circle cx="123.9" cy="289.52" r="1.15" fill="#ea9530"/>
<circle cx="121.9" cy="291.96" r="1.15" fill="#ea9530"/>
<circle cx="125.9" cy="292.77" r="1.15" fill="#ea9530"/>
<circle cx="123.9" cy="294.4" r="1.15" fill="#ea9530"/>
<circle cx="122.9" cy="296.02" r="1.15" fill="#ea9530"/>
<rect x="151.5" y="287.89" width="7.6" height="13.01" fill="#f7c283"/>
<line x1="155.3" y1="287.89" x2="155.3" y2="280.57" stroke="#f5a128" stroke-width="0.8"/>
<line x1="153.8" y1="280.57" x2="156.8" y2="280.57" stroke="#f5a128" stroke-width="0.8"/>
<circle cx="155.3" cy="262.69" r="1.15" fill="#ea9530"/>
<circle cx="152.8" cy="285.45" r="1.15" fill="#ea9530"/>
<circle cx="157.8" cy="286.27" r="1.15" fill="#ea9530"/>
<circle cx="155.3" cy="291.14" r="1.15" fill="#ea9530"/>
<circle cx="155.3" cy="296.02" r="1.15" fill="#ea9530"/>
<text x="55.6" y="313.6" font-size="7.8" text-anchor="middle">CD3</text>
<text x="87" y="313.6" font-size="7.8" text-anchor="middle">B220</text>
<text x="118.4" y="313.6" font-size="7.8" text-anchor="middle">GR1</text>
<text x="149.8" y="313.6" font-size="7.8" text-anchor="middle">CD11B</text>
<circle cx="30.3" cy="325.4" r="1.3" fill="#1d4f86"/>
<text x="33.9" y="328" font-size="7.25" text-anchor="start">Injected with BM from Wild Type +/+ Primary</text>
<text x="33.9" y="336.2" font-size="7.25" text-anchor="start">Irradiated Transplants n = 5</text>
<circle cx="30.3" cy="346.8" r="1.3" fill="#f5a128"/>
<text x="33.9" y="349.4" font-size="7.25" text-anchor="start">Injected with BM from Fancc −/− Primary</text>
<text x="33.9" y="357.6" font-size="7.25" text-anchor="start">Irradiated Transplants n = 5</text>
<text x="179.6" y="208.6" font-size="11" text-anchor="start" font-weight="bold" style="stroke-width:0.45px" fill="#000">E</text>
<line x1="208.3" y1="217.1" x2="208.3" y2="301.45" stroke="#231f20" stroke-width="1.1"/>
<line x1="206" y1="219.6" x2="208.3" y2="219.6" stroke="#231f20" stroke-width="1.1"/>
<text x="202.2" y="222.31" font-size="8.2" text-anchor="end">20</text>
<line x1="206" y1="239.92" x2="208.3" y2="239.92" stroke="#231f20" stroke-width="1.1"/>
<text x="202.2" y="242.63" font-size="8.2" text-anchor="end">15</text>
<line x1="206" y1="260.25" x2="208.3" y2="260.25" stroke="#231f20" stroke-width="1.1"/>
<text x="202.2" y="262.96" font-size="8.2" text-anchor="end">10</text>
<line x1="206" y1="280.57" x2="208.3" y2="280.57" stroke="#231f20" stroke-width="1.1"/>
<text x="202.2" y="283.28" font-size="8.2" text-anchor="end">5</text>
<line x1="206" y1="300.9" x2="208.3" y2="300.9" stroke="#231f20" stroke-width="1.1"/>
<text x="202.2" y="303.61" font-size="8.2" text-anchor="end">0</text>
<text x="187.4" y="259" font-size="9.4" text-anchor="middle" transform="rotate(-90 187.4 259)" textLength="18" lengthAdjust="spacingAndGlyphs" style="stroke-width:0.3px">%GFP</text>
<line x1="207.75" y1="300.9" x2="289.4" y2="300.9" stroke="#231f20" stroke-width="1.1"/>
<line x1="227.2" y1="300.9" x2="227.2" y2="303.9" stroke="#231f20" stroke-width="1.1"/>
<line x1="270.3" y1="300.9" x2="270.3" y2="303.9" stroke="#231f20" stroke-width="1.1"/>
<line x1="214.4" y1="272.8" x2="238.4" y2="272.8" stroke="#a0a0a0" stroke-width="1"/>
<circle cx="226.6" cy="268.6" r="0.95" fill="#231f20"/>
<line x1="256.5" y1="225.9" x2="284.4" y2="225.9" stroke="#a0a0a0" stroke-width="1"/>
<circle cx="268.65" cy="221.6" r="0.95" fill="#231f20"/>
<circle cx="271.95" cy="221.6" r="0.95" fill="#231f20"/>
<circle cx="215.4" cy="297.2" r="1.75" fill="#c21a3e"/>
<circle cx="219" cy="296.3" r="1.75" fill="#c21a3e"/>
<circle cx="223" cy="296.9" r="1.75" fill="#c21a3e"/>
<circle cx="232.1" cy="288.5" r="1.6" fill="#3b9f46"/>
<circle cx="239" cy="289" r="1.6" fill="#3b9f46"/>
<circle cx="235.6" cy="293" r="1.6" fill="#3b9f46"/>
<line x1="230" y1="289.5" x2="241" y2="289.5" stroke="#231f20" stroke-width="0.8"/>
<circle cx="262.4" cy="274.3" r="1.75" fill="#c21a3e"/>
<circle cx="258.3" cy="282" r="1.75" fill="#c21a3e"/>
<circle cx="266.3" cy="281" r="1.75" fill="#c21a3e"/>
<line x1="256.9" y1="279.3" x2="267.7" y2="279.3" stroke="#231f20" stroke-width="0.9"/>
<line x1="262.3" y1="277.2" x2="262.3" y2="279.3" stroke="#231f20" stroke-width="0.6"/>
<circle cx="278.5" cy="238.7" r="1.6" fill="#3b9f46"/>
<circle cx="278.5" cy="241.8" r="1.6" fill="#3b9f46"/>
<circle cx="278.5" cy="254" r="1.6" fill="#3b9f46"/>
<line x1="273.2" y1="245.2" x2="283.9" y2="245.2" stroke="#231f20" stroke-width="0.9"/>
<text x="226.2" y="314" font-size="7.8" text-anchor="middle">Wild</text>
<text x="227.3" y="324.2" font-size="7.8" text-anchor="middle">Type +/+</text>
<text x="271.5" y="314" font-size="7.8" text-anchor="middle">Homozygous</text>
<text x="271.2" y="324.2" font-size="7.8" text-anchor="middle">Fancc −/−</text>
<circle cx="219.2" cy="335.5" r="1.2" fill="#c21a3e"/>
<text x="223.9" y="337.9" font-size="7" text-anchor="start">Pre-treatment</text>
<circle cx="219.2" cy="344.5" r="1.2" fill="#3b9f46"/>
<text x="223.9" y="346.9" font-size="7" text-anchor="start">1 month poly (I:C)</text>
<text x="349.4" y="208.6" font-size="11" text-anchor="start" font-weight="bold" style="stroke-width:0.45px" fill="#000">F</text>
<line x1="377.9" y1="217.1" x2="377.9" y2="301.45" stroke="#231f20" stroke-width="1.1"/>
<line x1="375.6" y1="219.6" x2="377.9" y2="219.6" stroke="#231f20" stroke-width="1.1"/>
<text x="371.9" y="222.31" font-size="8.2" text-anchor="end">20</text>
<line x1="375.6" y1="239.92" x2="377.9" y2="239.92" stroke="#231f20" stroke-width="1.1"/>
<text x="371.9" y="242.63" font-size="8.2" text-anchor="end">15</text>
<line x1="375.6" y1="260.25" x2="377.9" y2="260.25" stroke="#231f20" stroke-width="1.1"/>
<text x="371.9" y="262.96" font-size="8.2" text-anchor="end">10</text>
<line x1="375.6" y1="280.57" x2="377.9" y2="280.57" stroke="#231f20" stroke-width="1.1"/>
<text x="371.9" y="283.28" font-size="8.2" text-anchor="end">5</text>
<line x1="375.6" y1="300.9" x2="377.9" y2="300.9" stroke="#231f20" stroke-width="1.1"/>
<text x="371.9" y="303.61" font-size="8.2" text-anchor="end">0</text>
<text x="357" y="258.6" font-size="9.4" text-anchor="middle" transform="rotate(-90 357 258.6)" textLength="18" lengthAdjust="spacingAndGlyphs" style="stroke-width:0.3px">%GFP</text>
<line x1="377.35" y1="300.9" x2="499.6" y2="300.9" stroke="#231f20" stroke-width="1.1"/>
<line x1="386.3" y1="300.9" x2="386.3" y2="303.9" stroke="#231f20" stroke-width="1.1"/>
<line x1="403.8" y1="300.9" x2="403.8" y2="303.9" stroke="#231f20" stroke-width="1.1"/>
<line x1="421.3" y1="300.9" x2="421.3" y2="303.9" stroke="#231f20" stroke-width="1.1"/>
<line x1="438.8" y1="300.9" x2="438.8" y2="303.9" stroke="#231f20" stroke-width="1.1"/>
<line x1="456" y1="300.9" x2="456" y2="303.9" stroke="#231f20" stroke-width="1.1"/>
<line x1="473.4" y1="300.9" x2="473.4" y2="303.9" stroke="#231f20" stroke-width="1.1"/>
<line x1="490.8" y1="300.9" x2="490.8" y2="303.9" stroke="#231f20" stroke-width="1.1"/>
<circle cx="386.3" cy="219.3" r="0.95" fill="#231f20"/>
<circle cx="402.15" cy="219.3" r="0.95" fill="#231f20"/>
<circle cx="405.45" cy="219.3" r="0.95" fill="#231f20"/>
<circle cx="421.3" cy="219.3" r="0.95" fill="#231f20"/>
<circle cx="437.15" cy="219.3" r="0.95" fill="#231f20"/>
<circle cx="440.45" cy="219.3" r="0.95" fill="#231f20"/>
<circle cx="456" cy="219.3" r="0.95" fill="#231f20"/>
<circle cx="473.4" cy="219.3" r="0.95" fill="#231f20"/>
<circle cx="490.8" cy="219.3" r="0.95" fill="#231f20"/>
<polyline points="386.3,296.02 403.8,288.3 421.3,293.99 438.8,287.08 456,294.4 473.4,288.3 490.8,297.24" fill="none" stroke="#3b9f46" stroke-width="1.1" stroke-linejoin="round"/>
<circle cx="386.3" cy="296.02" r="1.45" fill="#3b9f46"/>
<circle cx="403.8" cy="288.3" r="1.45" fill="#3b9f46"/>
<circle cx="421.3" cy="293.99" r="1.45" fill="#3b9f46"/>
<circle cx="438.8" cy="287.08" r="1.45" fill="#3b9f46"/>
<circle cx="456" cy="294.4" r="1.45" fill="#3b9f46"/>
<circle cx="473.4" cy="288.3" r="1.45" fill="#3b9f46"/>
<circle cx="490.8" cy="297.24" r="1.45" fill="#3b9f46"/>
<polyline points="386.3,296.02 403.8,288.3 421.3,291.96 438.8,293.18 456,291.96 473.4,291.55 490.8,297.24" fill="none" stroke="#3b9f46" stroke-width="1.1" stroke-linejoin="round"/>
<circle cx="386.3" cy="296.02" r="1.45" fill="#3b9f46"/>
<circle cx="403.8" cy="288.3" r="1.45" fill="#3b9f46"/>
<circle cx="421.3" cy="291.96" r="1.45" fill="#3b9f46"/>
<circle cx="438.8" cy="293.18" r="1.45" fill="#3b9f46"/>
<circle cx="456" cy="291.96" r="1.45" fill="#3b9f46"/>
<circle cx="473.4" cy="291.55" r="1.45" fill="#3b9f46"/>
<circle cx="490.8" cy="297.24" r="1.45" fill="#3b9f46"/>
<polyline points="386.3,297.65 403.8,293.18 421.3,296.43 438.8,297.65 456,298.46 473.4,297.24 490.8,297.24" fill="none" stroke="#3b9f46" stroke-width="1.1" stroke-linejoin="round"/>
<circle cx="386.3" cy="297.65" r="1.45" fill="#3b9f46"/>
<circle cx="403.8" cy="293.18" r="1.45" fill="#3b9f46"/>
<circle cx="421.3" cy="296.43" r="1.45" fill="#3b9f46"/>
<circle cx="438.8" cy="297.65" r="1.45" fill="#3b9f46"/>
<circle cx="456" cy="298.46" r="1.45" fill="#3b9f46"/>
<circle cx="473.4" cy="297.24" r="1.45" fill="#3b9f46"/>
<circle cx="490.8" cy="297.24" r="1.45" fill="#3b9f46"/>
<polyline points="386.3,274.88 403.8,238.71 421.3,239.11 438.8,243.18 456,237.08 473.4,238.71 490.8,233.01" fill="none" stroke="#c21a3e" stroke-width="1.2" stroke-linejoin="round"/>
<circle cx="386.3" cy="274.88" r="1.6" fill="#c21a3e"/>
<circle cx="403.8" cy="238.71" r="1.6" fill="#c21a3e"/>
<circle cx="421.3" cy="239.11" r="1.6" fill="#c21a3e"/>
<circle cx="438.8" cy="243.18" r="1.6" fill="#c21a3e"/>
<circle cx="456" cy="237.08" r="1.6" fill="#c21a3e"/>
<circle cx="473.4" cy="238.71" r="1.6" fill="#c21a3e"/>
<circle cx="490.8" cy="233.01" r="1.6" fill="#c21a3e"/>
<polyline points="386.3,281.39 403.8,242.36 421.3,250.9 438.8,253.34 456,250.09 473.4,243.58 490.8,248.05" fill="none" stroke="#c21a3e" stroke-width="1.2" stroke-linejoin="round"/>
<circle cx="386.3" cy="281.39" r="1.6" fill="#c21a3e"/>
<circle cx="403.8" cy="242.36" r="1.6" fill="#c21a3e"/>
<circle cx="421.3" cy="250.9" r="1.6" fill="#c21a3e"/>
<circle cx="438.8" cy="253.34" r="1.6" fill="#c21a3e"/>
<circle cx="456" cy="250.09" r="1.6" fill="#c21a3e"/>
<circle cx="473.4" cy="243.58" r="1.6" fill="#c21a3e"/>
<circle cx="490.8" cy="248.05" r="1.6" fill="#c21a3e"/>
<polyline points="386.3,282.2 403.8,254.56 421.3,264.72 438.8,262.28 456,267.97 473.4,259.84 490.8,258.62" fill="none" stroke="#c21a3e" stroke-width="1.2" stroke-linejoin="round"/>
<circle cx="386.3" cy="282.2" r="1.6" fill="#c21a3e"/>
<circle cx="403.8" cy="254.56" r="1.6" fill="#c21a3e"/>
<circle cx="421.3" cy="264.72" r="1.6" fill="#c21a3e"/>
<circle cx="438.8" cy="262.28" r="1.6" fill="#c21a3e"/>
<circle cx="456" cy="267.97" r="1.6" fill="#c21a3e"/>
<circle cx="473.4" cy="259.84" r="1.6" fill="#c21a3e"/>
<circle cx="490.8" cy="258.62" r="1.6" fill="#c21a3e"/>
<text x="388.7" y="311.5" font-size="7.6" text-anchor="end" transform="rotate(-45 388.7 311.5)">Pre-treatment</text>
<text x="406.2" y="311.5" font-size="7.6" text-anchor="end" transform="rotate(-45 406.2 311.5)">1mth poly(I:C)</text>
<text x="423.7" y="311.5" font-size="7.6" text-anchor="end" transform="rotate(-45 423.7 311.5)">2mth poly(I:C)</text>
<text x="441.2" y="311.5" font-size="7.6" text-anchor="end" transform="rotate(-45 441.2 311.5)">3mth poly(I:C)</text>
<text x="458.4" y="311.5" font-size="7.6" text-anchor="end" transform="rotate(-45 458.4 311.5)">4mth poly(I:C)</text>
<text x="475.8" y="311.5" font-size="7.6" text-anchor="end" transform="rotate(-45 475.8 311.5)">5mth poly(I:C)</text>
<text x="493.2" y="311.5" font-size="7.6" text-anchor="end" transform="rotate(-45 493.2 311.5)">6mth poly(I:C)</text>
<line x1="386.2" y1="356.7" x2="394.3" y2="356.7" stroke="#3b9f46" stroke-width="0.9"/>
<circle cx="390.2" cy="356.7" r="1.2" fill="#3b9f46"/>
<text x="397.8" y="359.3" font-size="7.15" text-anchor="start">Wild Type +/+ n = 3</text>
<line x1="386.2" y1="367.5" x2="394.3" y2="367.5" stroke="#c21a3e" stroke-width="0.9"/>
<circle cx="390.2" cy="367.5" r="1.2" fill="#c21a3e"/>
<text x="397.8" y="370.1" font-size="7.15" text-anchor="start">Homozygous Fancc −/− n = 3</text>
<text x="87" y="396.4" font-size="11" text-anchor="start" font-weight="bold" style="stroke-width:0.45px" fill="#000">G</text>
<line x1="117.3" y1="404.6" x2="117.3" y2="497.85" stroke="#231f20" stroke-width="1.1"/>
<line x1="115" y1="407.1" x2="117.3" y2="407.1" stroke="#231f20" stroke-width="1.1"/>
<text x="111" y="409.81" font-size="8.2" text-anchor="end">2.0</text>
<line x1="115" y1="429.65" x2="117.3" y2="429.65" stroke="#231f20" stroke-width="1.1"/>
<text x="111" y="432.36" font-size="8.2" text-anchor="end">1.5</text>
<line x1="115" y1="452.2" x2="117.3" y2="452.2" stroke="#231f20" stroke-width="1.1"/>
<text x="111" y="454.91" font-size="8.2" text-anchor="end">1.0</text>
<line x1="115" y1="474.75" x2="117.3" y2="474.75" stroke="#231f20" stroke-width="1.1"/>
<text x="111" y="477.46" font-size="8.2" text-anchor="end">0.5</text>
<line x1="115" y1="497.3" x2="117.3" y2="497.3" stroke="#231f20" stroke-width="1.1"/>
<text x="111" y="500.01" font-size="8.2" text-anchor="end">0.0</text>
<text x="95" y="450.7" font-size="9.2" text-anchor="middle" transform="rotate(-90 95 450.7)" textLength="53" lengthAdjust="spacingAndGlyphs" style="stroke-width:0.3px">% of cells in WBM</text>
<rect x="118.65" y="480.16" width="2.7" height="17.14" fill="#ebb690"/>
<line x1="120" y1="480.16" x2="120" y2="469.34" stroke="#ebb690" stroke-width="0.9"/>
<circle cx="120" cy="450.4" r="1.1" fill="#b8582a"/>
<circle cx="120" cy="486.93" r="1.1" fill="#b8582a"/>
<circle cx="120" cy="494.59" r="1.1" fill="#b8582a"/>
<rect x="122.35" y="470.24" width="2.7" height="27.06" fill="#a8d99c"/>
<line x1="123.7" y1="470.24" x2="123.7" y2="466.63" stroke="#a8d99c" stroke-width="0.9"/>
<path d="M123.7 465.28L122.35 467.64L125.05 467.64Z" fill="#2e9e3e"/>
<path d="M123.7 475.65L122.35 478.02L125.05 478.02Z" fill="#2e9e3e"/>
<rect x="126.05" y="491.44" width="2.7" height="5.86" fill="#fcc57f"/>
<line x1="127.4" y1="491.44" x2="127.4" y2="490.08" stroke="#fcc57f" stroke-width="0.9"/>
<rect x="126.4" y="489.08" width="2" height="2" fill="#f39a1e"/>
<rect x="126.4" y="491.79" width="2" height="2" fill="#f39a1e"/>
<rect x="129.65" y="446.79" width="2.7" height="50.51" fill="#e68d9b"/>
<line x1="131" y1="446.79" x2="131" y2="437.77" stroke="#e68d9b" stroke-width="0.9"/>
<path d="M131 439.12L129.65 436.76L132.35 436.76Z" fill="#a3163a"/>
<path d="M131 454.45L129.65 452.09L132.35 452.09Z" fill="#a3163a"/>
<rect x="135.56" y="493.69" width="2.7" height="3.61" fill="#ebb690"/>
<line x1="136.91" y1="493.69" x2="136.91" y2="491.89" stroke="#ebb690" stroke-width="0.9"/>
<circle cx="136.91" cy="491.89" r="1.1" fill="#b8582a"/>
<circle cx="136.91" cy="495.5" r="1.1" fill="#b8582a"/>
<rect x="139.26" y="496.4" width="2.7" height="0.9" fill="#a8d99c"/>
<line x1="140.61" y1="496.4" x2="140.61" y2="495.95" stroke="#a8d99c" stroke-width="0.9"/>
<path d="M140.61 495.05L139.26 497.41L141.96 497.41Z" fill="#2e9e3e"/>
<rect x="142.96" y="495.5" width="2.7" height="1.8" fill="#fcc57f"/>
<line x1="144.31" y1="495.5" x2="144.31" y2="495.05" stroke="#fcc57f" stroke-width="0.9"/>
<rect x="143.31" y="494.05" width="2" height="2" fill="#f39a1e"/>
<rect x="146.56" y="495.05" width="2.7" height="2.25" fill="#e68d9b"/>
<line x1="147.91" y1="495.05" x2="147.91" y2="494.14" stroke="#e68d9b" stroke-width="0.9"/>
<path d="M147.91 495.49L146.56 493.13L149.26 493.13Z" fill="#a3163a"/>
<rect x="152.47" y="495.95" width="2.7" height="1.35" fill="#ebb690"/>
<line x1="153.82" y1="495.95" x2="153.82" y2="495.5" stroke="#ebb690" stroke-width="0.9"/>
<circle cx="153.82" cy="495.5" r="1.1" fill="#b8582a"/>
<rect x="156.17" y="496.4" width="2.7" height="0.9" fill="#a8d99c"/>
<line x1="157.52" y1="496.4" x2="157.52" y2="495.95" stroke="#a8d99c" stroke-width="0.9"/>
<path d="M157.52 495.05L156.17 497.41L158.87 497.41Z" fill="#2e9e3e"/>
<rect x="159.87" y="496.4" width="2.7" height="0.9" fill="#fcc57f"/>
<line x1="161.22" y1="496.4" x2="161.22" y2="495.95" stroke="#fcc57f" stroke-width="0.9"/>
<rect x="160.22" y="495.4" width="2" height="2" fill="#f39a1e"/>
<rect x="163.47" y="494.14" width="2.7" height="3.16" fill="#e68d9b"/>
<line x1="164.82" y1="494.14" x2="164.82" y2="493.24" stroke="#e68d9b" stroke-width="0.9"/>
<path d="M164.82 494.59L163.47 492.23L166.17 492.23Z" fill="#a3163a"/>
<rect x="169.38" y="489.63" width="2.7" height="7.67" fill="#ebb690"/>
<line x1="170.73" y1="489.63" x2="170.73" y2="482.87" stroke="#ebb690" stroke-width="0.9"/>
<circle cx="170.73" cy="471.59" r="1.1" fill="#b8582a"/>
<circle cx="170.73" cy="492.79" r="1.1" fill="#b8582a"/>
<circle cx="170.73" cy="495.05" r="1.1" fill="#b8582a"/>
<rect x="173.08" y="483.77" width="2.7" height="13.53" fill="#a8d99c"/>
<line x1="174.43" y1="483.77" x2="174.43" y2="476.55" stroke="#a8d99c" stroke-width="0.9"/>
<path d="M174.43 475.2L173.08 477.57L175.78 477.57Z" fill="#2e9e3e"/>
<path d="M174.43 486.93L173.08 489.29L175.78 489.29Z" fill="#2e9e3e"/>
<rect x="176.78" y="495.95" width="2.7" height="1.35" fill="#fcc57f"/>
<line x1="178.13" y1="495.95" x2="178.13" y2="495.5" stroke="#fcc57f" stroke-width="0.9"/>
<rect x="177.13" y="494.95" width="2" height="2" fill="#f39a1e"/>
<rect x="180.38" y="458.97" width="2.7" height="38.33" fill="#e68d9b"/>
<line x1="181.73" y1="458.97" x2="181.73" y2="450.85" stroke="#e68d9b" stroke-width="0.9"/>
<path d="M181.73 452.2L180.38 449.83L183.08 449.83Z" fill="#a3163a"/>
<path d="M181.73 467.53L180.38 465.17L183.08 465.17Z" fill="#a3163a"/>
<rect x="186.29" y="492.79" width="2.7" height="4.51" fill="#ebb690"/>
<line x1="187.64" y1="492.79" x2="187.64" y2="490.08" stroke="#ebb690" stroke-width="0.9"/>
<circle cx="187.64" cy="489.63" r="1.1" fill="#b8582a"/>
<circle cx="187.64" cy="493.69" r="1.1" fill="#b8582a"/>
<rect x="189.99" y="492.79" width="2.7" height="4.51" fill="#a8d99c"/>
<line x1="191.34" y1="492.79" x2="191.34" y2="491.44" stroke="#a8d99c" stroke-width="0.9"/>
<path d="M191.34 490.09L189.99 492.45L192.69 492.45Z" fill="#2e9e3e"/>
<rect x="193.69" y="495.95" width="2.7" height="1.35" fill="#fcc57f"/>
<line x1="195.04" y1="495.95" x2="195.04" y2="495.5" stroke="#fcc57f" stroke-width="0.9"/>
<rect x="194.04" y="494.95" width="2" height="2" fill="#f39a1e"/>
<rect x="197.29" y="491.89" width="2.7" height="5.41" fill="#e68d9b"/>
<line x1="198.64" y1="491.89" x2="198.64" y2="490.08" stroke="#e68d9b" stroke-width="0.9"/>
<path d="M198.64 491.89L197.29 489.52L199.99 489.52Z" fill="#a3163a"/>
<rect x="203.2" y="478.81" width="2.7" height="18.49" fill="#ebb690"/>
<line x1="204.55" y1="478.81" x2="204.55" y2="468.89" stroke="#ebb690" stroke-width="0.9"/>
<circle cx="204.55" cy="452.65" r="1.1" fill="#b8582a"/>
<circle cx="204.55" cy="482.87" r="1.1" fill="#b8582a"/>
<circle cx="204.55" cy="489.18" r="1.1" fill="#b8582a"/>
<rect x="206.9" y="478.36" width="2.7" height="18.94" fill="#a8d99c"/>
<line x1="208.25" y1="478.36" x2="208.25" y2="477.46" stroke="#a8d99c" stroke-width="0.9"/>
<path d="M208.25 477.01L206.9 479.37L209.6 479.37Z" fill="#2e9e3e"/>
<path d="M208.25 478.81L206.9 481.17L209.6 481.17Z" fill="#2e9e3e"/>
<rect x="210.6" y="481.97" width="2.7" height="15.33" fill="#fcc57f"/>
<line x1="211.95" y1="481.97" x2="211.95" y2="478.36" stroke="#fcc57f" stroke-width="0.9"/>
<rect x="210.95" y="480.97" width="2" height="2" fill="#f39a1e"/>
<rect x="210.95" y="486.38" width="2" height="2" fill="#f39a1e"/>
<rect x="214.2" y="495.95" width="2.7" height="1.35" fill="#e68d9b"/>
<line x1="215.55" y1="495.95" x2="215.55" y2="495.5" stroke="#e68d9b" stroke-width="0.9"/>
<path d="M215.55 497.3L214.2 494.93L216.9 494.93Z" fill="#a3163a"/>
<rect x="220.11" y="471.59" width="2.7" height="25.71" fill="#ebb690"/>
<line x1="221.46" y1="471.59" x2="221.46" y2="458.97" stroke="#ebb690" stroke-width="0.9"/>
<circle cx="221.46" cy="437.77" r="1.1" fill="#b8582a"/>
<circle cx="221.46" cy="471.59" r="1.1" fill="#b8582a"/>
<circle cx="221.46" cy="477" r="1.1" fill="#b8582a"/>
<circle cx="221.46" cy="487.38" r="1.1" fill="#b8582a"/>
<rect x="223.81" y="490.54" width="2.7" height="6.76" fill="#a8d99c"/>
<line x1="225.16" y1="490.54" x2="225.16" y2="489.63" stroke="#a8d99c" stroke-width="0.9"/>
<path d="M225.16 489.19L223.81 491.55L226.51 491.55Z" fill="#2e9e3e"/>
<rect x="227.51" y="480.16" width="2.7" height="17.14" fill="#fcc57f"/>
<line x1="228.86" y1="480.16" x2="228.86" y2="477.46" stroke="#fcc57f" stroke-width="0.9"/>
<rect x="227.86" y="476.46" width="2" height="2" fill="#f39a1e"/>
<rect x="227.86" y="481.42" width="2" height="2" fill="#f39a1e"/>
<rect x="227.86" y="484.57" width="2" height="2" fill="#f39a1e"/>
<rect x="231.11" y="486.48" width="2.7" height="10.82" fill="#e68d9b"/>
<line x1="232.46" y1="486.48" x2="232.46" y2="484.67" stroke="#e68d9b" stroke-width="0.9"/>
<path d="M232.46 487.83L231.11 485.46L233.81 485.46Z" fill="#a3163a"/>
<path d="M232.46 491.89L231.11 489.52L233.81 489.52Z" fill="#a3163a"/>
<rect x="237.02" y="455.81" width="2.7" height="41.49" fill="#ebb690"/>
<line x1="238.37" y1="455.81" x2="238.37" y2="443.18" stroke="#ebb690" stroke-width="0.9"/>
<circle cx="238.37" cy="419.73" r="1.1" fill="#b8582a"/>
<circle cx="238.37" cy="460.32" r="1.1" fill="#b8582a"/>
<circle cx="238.37" cy="465.73" r="1.1" fill="#b8582a"/>
<circle cx="238.37" cy="470.24" r="1.1" fill="#b8582a"/>
<rect x="240.72" y="478.36" width="2.7" height="18.94" fill="#a8d99c"/>
<line x1="242.07" y1="478.36" x2="242.07" y2="476.1" stroke="#a8d99c" stroke-width="0.9"/>
<path d="M242.07 477.01L240.72 479.37L243.42 479.37Z" fill="#2e9e3e"/>
<path d="M242.07 482.42L240.72 484.78L243.42 484.78Z" fill="#2e9e3e"/>
<rect x="244.42" y="467.53" width="2.7" height="29.77" fill="#fcc57f"/>
<line x1="245.77" y1="467.53" x2="245.77" y2="466.18" stroke="#fcc57f" stroke-width="0.9"/>
<rect x="244.77" y="466.53" width="2" height="2" fill="#f39a1e"/>
<rect x="244.77" y="473.75" width="2" height="2" fill="#f39a1e"/>
<rect x="244.77" y="480.06" width="2" height="2" fill="#f39a1e"/>
<rect x="248.02" y="490.54" width="2.7" height="6.76" fill="#e68d9b"/>
<line x1="249.37" y1="490.54" x2="249.37" y2="488.73" stroke="#e68d9b" stroke-width="0.9"/>
<path d="M249.37 491.89L248.02 489.52L250.72 489.52Z" fill="#a3163a"/>
<line x1="116.75" y1="497.3" x2="251.8" y2="497.3" stroke="#231f20" stroke-width="1.1"/>
<line x1="125.3" y1="497.3" x2="125.3" y2="500.3" stroke="#231f20" stroke-width="1.1"/>
<line x1="142.21" y1="497.3" x2="142.21" y2="500.3" stroke="#231f20" stroke-width="1.1"/>
<line x1="159.12" y1="497.3" x2="159.12" y2="500.3" stroke="#231f20" stroke-width="1.1"/>
<line x1="176.03" y1="497.3" x2="176.03" y2="500.3" stroke="#231f20" stroke-width="1.1"/>
<line x1="192.94" y1="497.3" x2="192.94" y2="500.3" stroke="#231f20" stroke-width="1.1"/>
<line x1="209.85" y1="497.3" x2="209.85" y2="500.3" stroke="#231f20" stroke-width="1.1"/>
<line x1="226.76" y1="497.3" x2="226.76" y2="500.3" stroke="#231f20" stroke-width="1.1"/>
<line x1="243.67" y1="497.3" x2="243.67" y2="500.3" stroke="#231f20" stroke-width="1.1"/>
<text x="129.9" y="506.3" font-size="7.6" text-anchor="end" transform="rotate(-45 129.9 506.3)">LSK</text>
<text x="146.81" y="506.3" font-size="7.6" text-anchor="end" transform="rotate(-45 146.81 506.3)">LTHSC</text>
<text x="163.72" y="506.3" font-size="7.6" text-anchor="end" transform="rotate(-45 163.72 506.3)">MPP2</text>
<text x="180.63" y="506.3" font-size="7.6" text-anchor="end" transform="rotate(-45 180.63 506.3)">MPP3,4</text>
<text x="197.54" y="506.3" font-size="7.6" text-anchor="end" transform="rotate(-45 197.54 506.3)">STHSC</text>
<text x="214.45" y="506.3" font-size="7.6" text-anchor="end" transform="rotate(-45 214.45 506.3)">CMP</text>
<text x="231.36" y="506.3" font-size="7.6" text-anchor="end" transform="rotate(-45 231.36 506.3)">GMP</text>
<text x="248.27" y="506.3" font-size="7.6" text-anchor="end" transform="rotate(-45 248.27 506.3)">MEP</text>
<circle cx="122" cy="538" r="1.1" fill="#b8582a"/>
<text x="125.9" y="540.6" font-size="7.15" text-anchor="start">Wild Type poly (I:C) n = 4</text>
<path d="M122 547.15L120.65 549.51L123.35 549.51Z" fill="#2e9e3e"/>
<text x="125.9" y="551.1" font-size="7.15" text-anchor="start">Wild Type GFP injected poly (I:C) n = 2</text>
<rect x="121" y="557.9" width="2" height="2" fill="#f39a1e"/>
<text x="125.9" y="561.5" font-size="7.15" text-anchor="start">Homozygous Fancc −/− poly (I:C) n = 4</text>
<path d="M122 570.05L120.65 567.69L123.35 567.69Z" fill="#a3163a"/>
<text x="125.9" y="571.3" font-size="7.15" text-anchor="start">Homozygous Fancc −/− GFP</text>
<text x="125.9" y="580.3" font-size="7.15" text-anchor="start">Injected poly (I:C) n = 2</text>
<text x="271.4" y="395.6" font-size="11" text-anchor="start" font-weight="bold" style="stroke-width:0.45px" fill="#000">H</text>
<line x1="294" y1="408.6" x2="294" y2="450.3" stroke="#231f20" stroke-width="1.1"/>
<line x1="291.7" y1="411.1" x2="294" y2="411.1" stroke="#231f20" stroke-width="1.1"/>
<text x="288.2" y="413.81" font-size="8.2" text-anchor="end">3000</text>
<line x1="291.7" y1="424.4" x2="294" y2="424.4" stroke="#231f20" stroke-width="1.1"/>
<text x="288.2" y="427.11" font-size="8.2" text-anchor="end">2000</text>
<line x1="291.7" y1="437.7" x2="294" y2="437.7" stroke="#231f20" stroke-width="1.1"/>
<text x="288.2" y="440.41" font-size="8.2" text-anchor="end">1000</text>
<line x1="291.5" y1="450.3" x2="295.8" y2="450.3" stroke="#231f20" stroke-width="1.1"/>
<line x1="294" y1="458.3" x2="294" y2="497.3" stroke="#231f20" stroke-width="1.1"/>
<line x1="291.5" y1="458.8" x2="295.8" y2="458.8" stroke="#231f20" stroke-width="1.1"/>
<line x1="291.7" y1="458.8" x2="294" y2="458.8" stroke="#231f20" stroke-width="1.1"/>
<text x="288.2" y="461.51" font-size="8.2" text-anchor="end">60</text>
<line x1="291.7" y1="469.7" x2="294" y2="469.7" stroke="#231f20" stroke-width="1.1"/>
<text x="288.2" y="472.41" font-size="8.2" text-anchor="end">40</text>
<line x1="291.7" y1="480.6" x2="294" y2="480.6" stroke="#231f20" stroke-width="1.1"/>
<text x="288.2" y="483.31" font-size="8.2" text-anchor="end">20</text>
<line x1="291.7" y1="491.5" x2="294" y2="491.5" stroke="#231f20" stroke-width="1.1"/>
<text x="288.2" y="494.21" font-size="8.2" text-anchor="end">0</text>
<line x1="293.45" y1="497.3" x2="422.8" y2="497.3" stroke="#231f20" stroke-width="1.1"/>
<line x1="304.3" y1="497.3" x2="304.3" y2="500.3" stroke="#231f20" stroke-width="1.1"/>
<line x1="326.1" y1="497.3" x2="326.1" y2="500.3" stroke="#231f20" stroke-width="1.1"/>
<line x1="347.8" y1="497.3" x2="347.8" y2="500.3" stroke="#231f20" stroke-width="1.1"/>
<line x1="369.4" y1="497.3" x2="369.4" y2="500.3" stroke="#231f20" stroke-width="1.1"/>
<line x1="391" y1="497.3" x2="391" y2="500.3" stroke="#231f20" stroke-width="1.1"/>
<line x1="412.6" y1="497.3" x2="412.6" y2="500.3" stroke="#231f20" stroke-width="1.1"/>
<rect x="294.8" y="491.23" width="2.4" height="0.27" fill="#c1692a"/>
<rect x="298.12" y="491.23" width="2.4" height="0.27" fill="#3cb54a"/>
<rect x="301.44" y="491.23" width="2.4" height="0.27" fill="#f7941d"/>
<rect x="304.76" y="487.14" width="2.4" height="4.36" fill="#b1172e"/>
<line x1="305.96" y1="487.14" x2="305.96" y2="485.5" stroke="#8a8a8a" stroke-width="0.6"/>
<rect x="308.08" y="484.96" width="2.4" height="6.54" fill="#414d5e"/>
<line x1="309.28" y1="484.96" x2="309.28" y2="483.87" stroke="#8a8a8a" stroke-width="0.6"/>
<rect x="311.4" y="483.32" width="2.4" height="8.18" fill="#e5197d"/>
<line x1="312.6" y1="483.32" x2="312.6" y2="482.78" stroke="#8a8a8a" stroke-width="0.6"/>
<rect x="316.6" y="486.6" width="2.4" height="4.9" fill="#c1692a"/>
<line x1="317.8" y1="486.6" x2="317.8" y2="486.05" stroke="#8a8a8a" stroke-width="0.6"/>
<rect x="319.92" y="486.05" width="2.4" height="5.45" fill="#3cb54a"/>
<line x1="321.12" y1="486.05" x2="321.12" y2="485.5" stroke="#8a8a8a" stroke-width="0.6"/>
<rect x="323.24" y="485.5" width="2.4" height="6" fill="#f7941d"/>
<line x1="324.44" y1="485.5" x2="324.44" y2="484.96" stroke="#8a8a8a" stroke-width="0.6"/>
<rect x="326.56" y="484.63" width="2.4" height="6.87" fill="#b1172e"/>
<line x1="327.76" y1="484.63" x2="327.76" y2="483.54" stroke="#8a8a8a" stroke-width="0.6"/>
<rect x="329.88" y="485.78" width="2.4" height="5.72" fill="#414d5e"/>
<line x1="331.08" y1="485.78" x2="331.08" y2="485.23" stroke="#8a8a8a" stroke-width="0.6"/>
<rect x="333.2" y="485.4" width="2.4" height="6.1" fill="#e5197d"/>
<line x1="334.4" y1="485.4" x2="334.4" y2="484.85" stroke="#8a8a8a" stroke-width="0.6"/>
<rect x="338.3" y="484.96" width="2.4" height="6.54" fill="#c1692a"/>
<line x1="339.5" y1="484.96" x2="339.5" y2="484.42" stroke="#8a8a8a" stroke-width="0.6"/>
<rect x="341.62" y="484.42" width="2.4" height="7.08" fill="#3cb54a"/>
<line x1="342.82" y1="484.42" x2="342.82" y2="483.87" stroke="#8a8a8a" stroke-width="0.6"/>
<rect x="344.94" y="483.87" width="2.4" height="7.63" fill="#f7941d"/>
<line x1="346.14" y1="483.87" x2="346.14" y2="483.32" stroke="#8a8a8a" stroke-width="0.6"/>
<rect x="348.26" y="483.32" width="2.4" height="8.18" fill="#b1172e"/>
<line x1="349.46" y1="483.32" x2="349.46" y2="481.14" stroke="#8a8a8a" stroke-width="0.6"/>
<rect x="351.58" y="484.42" width="2.4" height="7.08" fill="#414d5e"/>
<line x1="352.78" y1="484.42" x2="352.78" y2="483.32" stroke="#8a8a8a" stroke-width="0.6"/>
<rect x="354.9" y="483.87" width="2.4" height="7.63" fill="#e5197d"/>
<line x1="356.1" y1="483.87" x2="356.1" y2="483.32" stroke="#8a8a8a" stroke-width="0.6"/>
<rect x="359.9" y="469.7" width="2.4" height="21.8" fill="#c1692a"/>
<line x1="361.1" y1="469.7" x2="361.1" y2="468.61" stroke="#8a8a8a" stroke-width="0.6"/>
<rect x="363.22" y="465.88" width="2.4" height="25.62" fill="#3cb54a"/>
<line x1="364.42" y1="465.88" x2="364.42" y2="465.34" stroke="#8a8a8a" stroke-width="0.6"/>
<rect x="366.54" y="466.43" width="2.4" height="25.07" fill="#f7941d"/>
<line x1="367.74" y1="466.43" x2="367.74" y2="465.88" stroke="#8a8a8a" stroke-width="0.6"/>
<rect x="369.86" y="465.88" width="2.4" height="25.62" fill="#b1172e"/>
<line x1="371.06" y1="465.88" x2="371.06" y2="460.98" stroke="#8a8a8a" stroke-width="0.6"/>
<rect x="373.18" y="468.61" width="2.4" height="22.89" fill="#414d5e"/>
<line x1="374.38" y1="468.61" x2="374.38" y2="465.88" stroke="#8a8a8a" stroke-width="0.6"/>
<rect x="376.5" y="466.43" width="2.4" height="25.07" fill="#e5197d"/>
<line x1="377.7" y1="466.43" x2="377.7" y2="462.07" stroke="#8a8a8a" stroke-width="0.6"/>
<rect x="381.5" y="465.88" width="2.4" height="25.62" fill="#c1692a"/>
<line x1="382.7" y1="465.88" x2="382.7" y2="465.34" stroke="#8a8a8a" stroke-width="0.6"/>
<rect x="384.82" y="464.8" width="2.4" height="26.7" fill="#3cb54a"/>
<line x1="386.02" y1="464.8" x2="386.02" y2="464.25" stroke="#8a8a8a" stroke-width="0.6"/>
<rect x="388.14" y="465.34" width="2.4" height="26.16" fill="#f7941d"/>
<line x1="389.34" y1="465.34" x2="389.34" y2="464.8" stroke="#8a8a8a" stroke-width="0.6"/>
<rect x="391.46" y="464.25" width="2.4" height="27.25" fill="#b1172e"/>
<line x1="392.66" y1="464.25" x2="392.66" y2="463.7" stroke="#8a8a8a" stroke-width="0.6"/>
<rect x="394.78" y="465.34" width="2.4" height="26.16" fill="#414d5e"/>
<line x1="395.98" y1="465.34" x2="395.98" y2="464.8" stroke="#8a8a8a" stroke-width="0.6"/>
<rect x="398.1" y="464.8" width="2.4" height="26.7" fill="#e5197d"/>
<line x1="399.3" y1="464.8" x2="399.3" y2="464.25" stroke="#8a8a8a" stroke-width="0.6"/>
<rect x="403.1" y="458.8" width="2.4" height="32.7" fill="#c1692a"/>
<rect x="403.1" y="425.73" width="2.4" height="24.47" fill="#c1692a"/>
<line x1="404.3" y1="425.73" x2="404.3" y2="415.09" stroke="#8a8a8a" stroke-width="0.6"/>
<rect x="406.42" y="458.8" width="2.4" height="32.7" fill="#3cb54a"/>
<rect x="406.42" y="437.7" width="2.4" height="12.5" fill="#3cb54a"/>
<line x1="407.62" y1="437.7" x2="407.62" y2="436.9" stroke="#8a8a8a" stroke-width="0.6"/>
<rect x="409.74" y="458.8" width="2.4" height="32.7" fill="#f7941d"/>
<rect x="409.74" y="431.71" width="2.4" height="18.49" fill="#f7941d"/>
<line x1="410.94" y1="431.71" x2="410.94" y2="428.39" stroke="#8a8a8a" stroke-width="0.6"/>
<rect x="413.06" y="458.8" width="2.4" height="32.7" fill="#b1172e"/>
<rect x="413.06" y="429.72" width="2.4" height="20.48" fill="#b1172e"/>
<line x1="414.26" y1="429.72" x2="414.26" y2="427.06" stroke="#8a8a8a" stroke-width="0.6"/>
<rect x="416.38" y="458.8" width="2.4" height="32.7" fill="#414d5e"/>
<rect x="416.38" y="439.69" width="2.4" height="10.5" fill="#414d5e"/>
<line x1="417.58" y1="439.69" x2="417.58" y2="433.71" stroke="#8a8a8a" stroke-width="0.6"/>
<rect x="419.7" y="458.8" width="2.4" height="32.7" fill="#e5197d"/>
<rect x="419.7" y="437.04" width="2.4" height="13.16" fill="#e5197d"/>
<line x1="420.9" y1="437.04" x2="420.9" y2="436.24" stroke="#8a8a8a" stroke-width="0.6"/>
<line x1="294" y1="491.5" x2="422.8" y2="491.5" stroke="#231f20" stroke-width="0.7" stroke-dasharray="1.2 1.1"/>
<line x1="296.5" y1="476.5" x2="310.7" y2="476.5" stroke="#8a8a8a" stroke-width="1"/>
<text x="303.6" y="474.4" font-size="8" text-anchor="middle">ns</text>
<line x1="317.8" y1="472.2" x2="332.9" y2="472.2" stroke="#8a8a8a" stroke-width="1"/>
<text x="325.35" y="470.1" font-size="8" text-anchor="middle">ns</text>
<line x1="338.8" y1="465.7" x2="354.6" y2="465.7" stroke="#8a8a8a" stroke-width="1"/>
<text x="346.7" y="463.6" font-size="8" text-anchor="middle">ns</text>
<line x1="361.4" y1="454.9" x2="376.6" y2="454.9" stroke="#8a8a8a" stroke-width="1"/>
<text x="369" y="452.8" font-size="8" text-anchor="middle">ns</text>
<line x1="383.9" y1="454.9" x2="398.8" y2="454.9" stroke="#8a8a8a" stroke-width="1"/>
<text x="391.35" y="452.8" font-size="8" text-anchor="middle">ns</text>
<line x1="405.7" y1="407" x2="420.5" y2="407" stroke="#8a8a8a" stroke-width="1"/>
<text x="413.1" y="404.9" font-size="8" text-anchor="middle">ns</text>
<text x="307.7" y="508.5" font-size="7.9" text-anchor="end" transform="rotate(-45 307.7 508.5)">WBC</text>
<text x="329.5" y="508.5" font-size="7.9" text-anchor="end" transform="rotate(-45 329.5 508.5)">RBC</text>
<text x="351.2" y="508.5" font-size="7.9" text-anchor="end" transform="rotate(-45 351.2 508.5)">HGB</text>
<text x="372.8" y="508.5" font-size="7.9" text-anchor="end" transform="rotate(-45 372.8 508.5)">HCT</text>
<text x="394.4" y="508.5" font-size="7.9" text-anchor="end" transform="rotate(-45 394.4 508.5)">MCV</text>
<text x="416" y="508.5" font-size="7.9" text-anchor="end" transform="rotate(-45 416 508.5)">PLT</text>
<rect x="289.2" y="528.5" width="9.9" height="4.6" fill="#c1692a"/>
<text x="301.5" y="533.4" font-size="7.15" text-anchor="start">Wild Type poly (I:C) n = 4</text>
<rect x="289.2" y="539.9" width="9.9" height="4.6" fill="#3cb54a"/>
<text x="301.5" y="544.8" font-size="7.15" text-anchor="start">Wild Type GFP injected poly (I:C) n = 2</text>
<rect x="289.2" y="550.9" width="9.9" height="4.6" fill="#f7941d"/>
<text x="301.5" y="555.8" font-size="7.15" text-anchor="start">Homozygous Fancc −/− poly (I:C) n = 4</text>
<rect x="289.2" y="563.9" width="9.9" height="4.6" fill="#b1172e"/>
<text x="301.5" y="568.8" font-size="7.15" text-anchor="start">Homozygous Fancc −/− GFP Injected</text>
<text x="301.5" y="577.4" font-size="7.15" text-anchor="start">poly (I:C) n = 3</text>
<rect x="289.2" y="583.5" width="9.9" height="4.6" fill="#414d5e"/>
<text x="301.5" y="588.4" font-size="7.15" text-anchor="start">Wild Type Untreated n = 4</text>
<rect x="289.2" y="595.9" width="9.9" height="4.6" fill="#e5197d"/>
<text x="301.5" y="600.8" font-size="7.15" text-anchor="start">Homozygous Fancc Untreated n = 2</text>
<rect x="0.5" y="0.5" width="519" height="608" fill="none" stroke="#5a5a5a" stroke-width="1"/>
</svg></body></html>
